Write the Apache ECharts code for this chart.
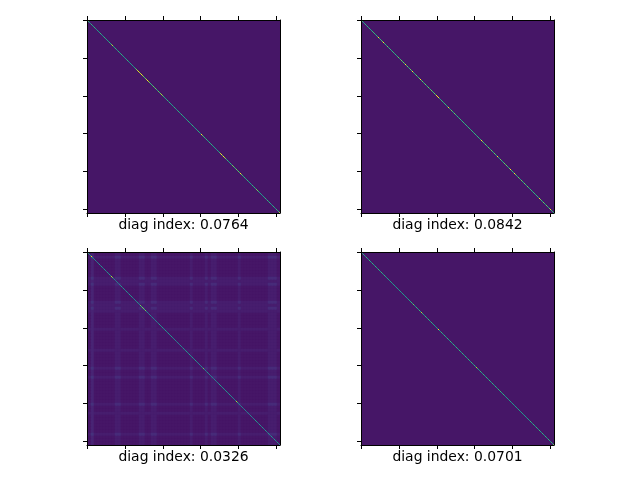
<!DOCTYPE html>
<html><head><meta charset="utf-8">
<style>html,body{margin:0;padding:0;background:#fff}#c{width:640px;height:480px}</style>
<script src="https://cdn.jsdelivr.net/npm/echarts@6/dist/echarts.min.js"></script>
</head><body><div id="c"></div>
<script>
const titles = ['diag index: 0.0764','diag index: 0.0842','diag index: 0.0326','diag index: 0.0701'];
const tickValues = [0,50,100,150,200,250];
const matrixSize = 256;
// Diagonal readings, one digit per matrix entry (digit / 9 = normalised value)
const diagA = ["55654565556546555665455656555465","78655655465556655465565545655465","67989878986767789867667676576567","67897656556546565545654556554655","55465565545565465556654897656565","55654655655465565897898765656565","67767676676987656655465565465565","79765655465565465565465655465768"];
const diagB = ["55655565665656566565656965667696","65675656567656656765675676596765","67569675676567696765676567656766","67689997656765676567965676567656","65676567656965676567656765676569","67656765676567656765696567659676","67656796765967656765676567656765","67656765676596765676567656796765"];
const diagC = ["54545995454435445435443544354454","87544354435445435443544354454354","44354467676767544354435443544354","54475443544354435445443544354435","54435443544354435445443544754435","54435443544354456544354435445544","54435486544354435443544354435445","54435443544354435443544354435445"];
const diagD = ["55465546554655465546554655465546","54655465546554655465546554655465","55465755465546558655465546554655","55465595546554655465546554655465","54655465546554655465546558655465","54655465546554655465546586554654","65546554655465546554655465546554","65546554655465546554655465546557"];
// Background level (digit / 50 = normalised value)
const bgA = ["3"];
const bgB = ["3"];
const bgD = ["3"];
// Panel 3 rows: plain, weak-stripe and strong-stripe rows
const P = "3533333334433333344334433333333333433334344333333343333333334443";
const W = "4544444444444444444444444444444444444444444444444444444444444444";
const S = "4744444446644444466446644444444444644446466444444464444444446664";
const bgC = [P,S,P,P,P,P,P,P,S,W,S,P,P,P,P,P,S,W,S,W,P,P,P,P,P,W,P,P,P,P,P,P,W,P,P,P,P,P,S,P,P,S,P,P,P,P,P,P,P,P,S,P,P,W,P,P,P,P,P,P,S,P,P,P];

const viridis = ['#440154','#482878','#3e4989','#31688e','#26828e','#1f9e89','#35b779','#6ece58','#b5de2b','#fde725'];
const panels = [
  {bg:bgA,diag:diagA,left:87,top:20},
  {bg:bgB,diag:diagB,left:361,top:20},
  {bg:bgC,diag:diagC,left:87,top:252},
  {bg:bgD,diag:diagD,left:361,top:252}
];
const size = 193;
const grid=[],xAxis=[],yAxis=[],series=[];
const line = {show:true,onZero:false,lineStyle:{color:'#000',width:1}};
const tick = {show:true,inside:false,length:4,customValues:tickValues,lineStyle:{color:'#000',width:1}};

panels.forEach((p,i)=>{
  // layer 1: background heatmap
  const gBg = grid.length;
  grid.push({left:p.left+1,top:p.top+1,width:size-1,height:size-1});
  const n = p.bg.length, cats = Array.from({length:n},(_,k)=>k);
  const xBg = xAxis.length, yBg = yAxis.length;
  xAxis.push({type:'category',gridIndex:gBg,data:cats,show:false});
  yAxis.push({type:'category',gridIndex:gBg,data:cats,show:false,inverse:true});
  const bgData=[];
  p.bg.forEach((row,r)=>{ for(let c=0;c<n;c++) bgData.push([c,r,+row[c]/50]); });
  series.push({type:'heatmap',xAxisIndex:xBg,yAxisIndex:yBg,data:bgData,progressive:0,silent:true,animation:false});
  // layer 2: diagonal and axes
  const gD = grid.length;
  grid.push({left:p.left,top:p.top,width:size,height:size});
  const vx = {type:'value',gridIndex:gD,min:-0.5,max:matrixSize-0.5,splitLine:{show:false},axisLabel:{show:false},z:10};
  const xb = xAxis.length;
  xAxis.push(Object.assign({},vx,{position:'bottom',axisLine:line,axisTick:tick,name:titles[i],nameLocation:'middle',nameGap:5,
    nameTextStyle:{fontFamily:'DejaVu Sans',fontSize:13.9,color:'#000'}}));
  xAxis.push(Object.assign({},vx,{position:'top',axisLine:line,axisTick:tick}));
  const yl = yAxis.length;
  yAxis.push(Object.assign({},vx,{inverse:true,position:'left',axisLine:line,axisTick:tick}));
  yAxis.push(Object.assign({},vx,{inverse:true,position:'right',axisLine:line,axisTick:{show:false}}));
  const dd=[]; const s=p.diag.join('');
  for(let k=0;k<s.length;k++) dd.push([k,k,+s[k]/9]);
  series.push({type:'custom',xAxisIndex:xb,yAxisIndex:yl,data:dd,encode:{x:0,y:1},silent:true,animation:false,clip:true,
    renderItem:(params,api)=>{
      const a=api.coord([api.value(0),api.value(1)]);
      return {type:'rect',shape:{x:Math.floor(a[0]),y:Math.floor(a[1]),width:1,height:1},style:{fill:api.visual('color')}};
    }});
});

const chart = echarts.init(document.getElementById('c'),null,{renderer:'canvas'});
chart.setOption({
  animation:false,backgroundColor:'#fff',tooltip:{show:false},
  visualMap:{show:false,type:'continuous',min:0,max:1,dimension:2,seriesIndex:series.map((_,k)=>k),inRange:{color:viridis}},
  grid,xAxis,yAxis,series
});
</script></body></html>
